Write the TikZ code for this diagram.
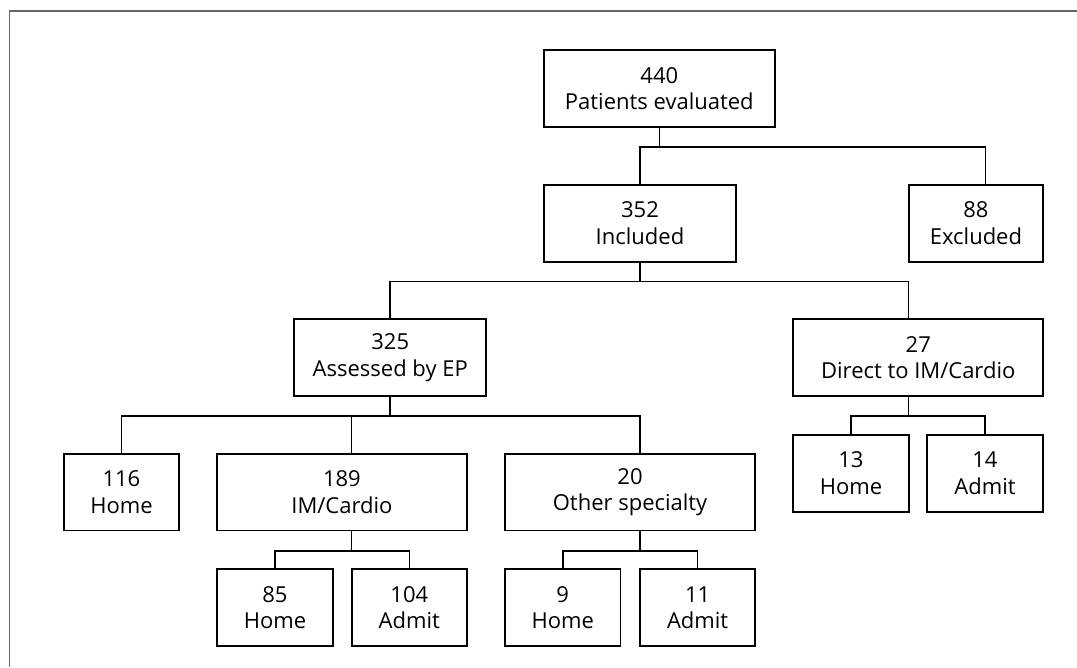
\documentclass[tikz,border=0pt]{standalone}
\usepackage{fontspec}
\setmainfont{Open Sans}
\usetikzlibrary{calc}

\begin{document}
\begin{tikzpicture}[
  x=0.75pt, y=-0.75pt,
  box/.style={draw, line width=1.4pt, anchor=north west, align=center, inner sep=0pt,
    minimum height=57.6pt, font=\fontsize{16.5}{20}\selectfont},
  link/.style={line width=1.2pt},
  frame/.style={line width=1.1pt, black!60}
]
  \useasboundingbox (0,0) rectangle (1077,667);

  % outer frame, top and left only
  \draw[frame] (9.7,667) -- (9.7,11) -- (1077,11);

  % first two levels
  \node[box, minimum width=173.5pt] (eval) at (542.7,49.3) {440\\Patients evaluated};
  \node[box, minimum width=144.5pt] (incl) at (542.7,184) {352\\Included};
  \node[box, minimum width=101pt] (excl) at (907.7,184) {88\\Excluded};

  % assessed / direct
  \node[box, minimum width=144pt] (assess) at (293.3,318.3) {325\\Assessed by EP};
  \node[box, minimum width=187.5pt] (direct) at (792.3,318.3) {27\\Direct to IM/Cardio};
  \node[box, minimum width=86.6pt] (dirhome) at (792.3,434) {13\\Home};
  \node[box, minimum width=87.5pt] (diradmit) at (925.7,434) {14\\Admit};

  % disposition after EP
  \node[box, minimum width=86.7pt] (home) at (62.7,452.7) {116\\Home};
  \node[box, minimum width=187.5pt] (imc) at (216,452.7) {189\\IM/Cardio};
  \node[box, minimum width=187.7pt] (other) at (504,452.7) {20\\Other specialty};

  % last level
  \node[box, minimum width=87pt] (imchome) at (216,568.3) {85\\Home};
  \node[box, minimum width=86.5pt] (imcadmit) at (350.7,568.3) {104\\Admit};
  \node[box, minimum width=86.7pt] (othhome) at (504,568.3) {9\\Home};
  \node[box, minimum width=86.5pt] (othadmit) at (639,568.3) {11\\Admit};

  % connectors
  \draw[link] (eval.south) -- ++(0,19) -| (incl.north);
  \draw[link] (eval.south) -- ++(0,19) -| ($(excl.north)+(9.7,0)$);

  \draw[link] (incl.south) -- ++(0,19) -| (assess.north);
  \draw[link] (incl.south) -- ++(0,19) -| ($(direct.north)+(-9.6,0)$);

  \draw[link] (assess.south) -- ++(0,19) -| (home.north);
  \draw[link] (assess.south) -- ++(0,19) -| ($(imc.north)+(9.7,0)$);
  \draw[link] (assess.south) -- ++(0,19) -| ($(other.north)+(9.8,0)$);

  \draw[link] ($(direct.south)+(-9.6,0)$) -- ++(0,19) -| (dirhome.north);
  \draw[link] ($(direct.south)+(-9.6,0)$) -- ++(0,19) -| (diradmit.north);

  \draw[link] ($(imc.south)+(9.7,0)$) -- ++(0,19.5) -| (imchome.north);
  \draw[link] ($(imc.south)+(9.7,0)$) -- ++(0,19.5) -| (imcadmit.north);
  \draw[link] ($(other.south)+(9.8,0)$) -- ++(0,19.5) -| (othhome.north);
  \draw[link] ($(other.south)+(9.8,0)$) -- ++(0,19.5) -| (othadmit.north);
\end{tikzpicture}
\end{document}
